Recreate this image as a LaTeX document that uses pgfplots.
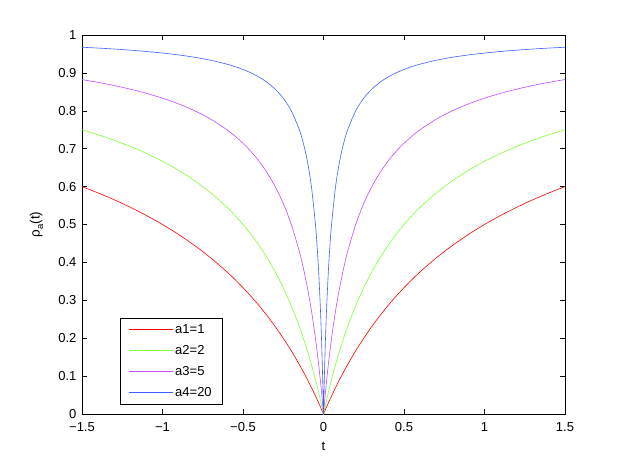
\documentclass[border=0pt]{standalone}
\usepackage{pgfplots}
\pgfplotsset{compat=1.18}
\usepackage{pgfplotstable}
\usepackage{fontspec}
\setmainfont{Liberation Sans}
\definecolor{cgreen}{rgb}{0.5,1,0.2}
\definecolor{cpurple}{rgb}{0.75,0.3,1}
\definecolor{cblue}{rgb}{0.25,0.38,1}
\pgfplotstableread{
t a1 a2 a3 a4
-1.5 0.6000 0.7500 0.8824 0.9677
-1.4 0.5833 0.7368 0.8750 0.9655
-1.3 0.5652 0.7222 0.8667 0.9630
-1.2 0.5455 0.7059 0.8571 0.9600
-1.1 0.5238 0.6875 0.8462 0.9565
-1.0 0.5000 0.6667 0.8333 0.9524
-0.9 0.4737 0.6429 0.8182 0.9474
-0.8 0.4444 0.6154 0.8000 0.9412
-0.7 0.4118 0.5833 0.7778 0.9333
-0.6 0.3750 0.5455 0.7500 0.9231
-0.55 0.3548 0.5238 0.7333 0.9167
-0.5 0.3333 0.5000 0.7143 0.9091
-0.45 0.3103 0.4737 0.6923 0.9000
-0.4 0.2857 0.4444 0.6667 0.8889
-0.35 0.2593 0.4118 0.6364 0.8750
-0.3 0.2308 0.3750 0.6000 0.8571
-0.25 0.2000 0.3333 0.5556 0.8333
-0.2 0.1667 0.2857 0.5000 0.8000
-0.15 0.1304 0.2308 0.4286 0.7500
-0.125 0.1111 0.2000 0.3846 0.7143
-0.1 0.0909 0.1667 0.3333 0.6667
-0.075 0.0698 0.1304 0.2727 0.6000
-0.05 0.0476 0.0909 0.2000 0.5000
-0.04 0.0385 0.0741 0.1667 0.4444
-0.03 0.0291 0.0566 0.1304 0.3750
-0.02 0.0196 0.0385 0.0909 0.2857
-0.015 0.0148 0.0291 0.0698 0.2308
-0.01 0.0099 0.0196 0.0476 0.1667
-0.005 0.0050 0.0099 0.0244 0.0909
-0.0025 0.0025 0.0050 0.0123 0.0476
0 0 0 0 0
0.0025 0.0025 0.0050 0.0123 0.0476
0.005 0.0050 0.0099 0.0244 0.0909
0.01 0.0099 0.0196 0.0476 0.1667
0.015 0.0148 0.0291 0.0698 0.2308
0.02 0.0196 0.0385 0.0909 0.2857
0.03 0.0291 0.0566 0.1304 0.3750
0.04 0.0385 0.0741 0.1667 0.4444
0.05 0.0476 0.0909 0.2000 0.5000
0.075 0.0698 0.1304 0.2727 0.6000
0.1 0.0909 0.1667 0.3333 0.6667
0.125 0.1111 0.2000 0.3846 0.7143
0.15 0.1304 0.2308 0.4286 0.7500
0.2 0.1667 0.2857 0.5000 0.8000
0.25 0.2000 0.3333 0.5556 0.8333
0.3 0.2308 0.3750 0.6000 0.8571
0.35 0.2593 0.4118 0.6364 0.8750
0.4 0.2857 0.4444 0.6667 0.8889
0.45 0.3103 0.4737 0.6923 0.9000
0.5 0.3333 0.5000 0.7143 0.9091
0.55 0.3548 0.5238 0.7333 0.9167
0.6 0.3750 0.5455 0.7500 0.9231
0.7 0.4118 0.5833 0.7778 0.9333
0.8 0.4444 0.6154 0.8000 0.9412
0.9 0.4737 0.6429 0.8182 0.9474
1.0 0.5000 0.6667 0.8333 0.9524
1.1 0.5238 0.6875 0.8462 0.9565
1.2 0.5455 0.7059 0.8571 0.9600
1.3 0.5652 0.7222 0.8667 0.9630
1.4 0.5833 0.7368 0.8750 0.9655
1.5 0.6000 0.7500 0.8824 0.9677
}\datatab
\begin{document}
\begin{tikzpicture}[font=\fontsize{13}{15}\selectfont]
\begin{axis}[
  scale only axis,
  width=483pt, height=379pt,
  xmin=-1.5, xmax=1.5, ymin=0, ymax=1,
  xtick={-1.5,-1,-0.5,0,0.5,1,1.5},
  xticklabels={−1.5,−1,−0.5,0,0.5,1,1.5},
  ytick={0,0.1,0.2,0.3,0.4,0.5,0.6,0.7,0.8,0.9,1},
  yticklabels={0,0.1,0.2,0.3,0.4,0.5,0.6,0.7,0.8,0.9,1},
  tick align=inside,
  major tick length=5pt,
  tick style={black, line width=0.5pt},
  axis line style={black, line width=0.6pt},
  every tick label/.append style={font=\fontsize{13}{15}\selectfont},
  xticklabel style={yshift=-5pt},
  yticklabel style={xshift=-2pt},
  xlabel={t},
  ylabel={ρ\raisebox{-0.5ex}{\fontsize{9.5}{10}\selectfont a}(t)},
  xlabel style={at={(axis description cs:0.5,-0.066)}, anchor=north, font=\fontsize{13}{15}\selectfont},
  ylabel style={at={(axis description cs:-0.073,0.5)}, anchor=south, font=\fontsize{13.5}{15}\selectfont},
  legend style={at={(0.0787,0.026)}, anchor=south west,
    font=\fontsize{13}{15}\selectfont, row sep=6.5pt, inner xsep=8pt, inner ysep=4pt,
    cells={anchor=west}},
  legend image code/.code={\draw[#1] (0pt,0pt) -- (44pt,0pt);},
  every axis plot/.append style={line width=0.6pt},
]
\addplot[draw=red, smooth, forget plot] table[x=t,y=a1] {\datatab};
\addplot[draw=cgreen, smooth, forget plot] table[x=t,y=a2] {\datatab};
\addplot[draw=cpurple, smooth, forget plot] table[x=t,y=a3] {\datatab};
\addplot[draw=cblue, smooth, forget plot] table[x=t,y=a4] {\datatab};
\addlegendimage{draw=red, line width=1pt}
\addlegendentry{a1=1}
\addlegendimage{draw=cgreen, line width=1pt}
\addlegendentry{a2=2}
\addlegendimage{draw=cpurple, line width=1pt}
\addlegendentry{a3=5}
\addlegendimage{draw=cblue, line width=1pt}
\addlegendentry{a4=20}
\end{axis}
\path (current axis.south west) ++(-82pt,-54pt) rectangle ++(623pt,468pt);
\end{tikzpicture}
\end{document}
